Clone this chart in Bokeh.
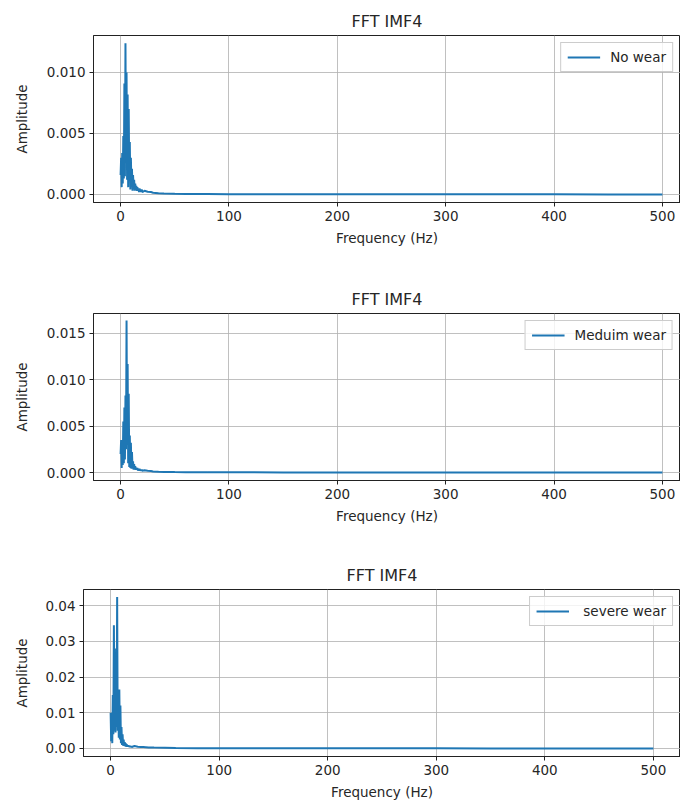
from bokeh.plotting import figure
from bokeh.layouts import column, row
from bokeh.models import Range1d, FixedTicker, PrintfTickFormatter, Legend, LegendItem
from bokeh.embed import file_html
from bokeh.resources import INLINE

# ---------------- data ----------------
freq_hz = [0.0, 0.5, 1.0, 1.5, 2.0, 2.5, 3.0, 3.5, 4.0, 4.5,
           5.0, 5.5, 6.0, 6.5, 7.0, 7.5, 8.0, 8.5, 9.0, 9.5,
           10.0, 10.5, 11.0, 11.5, 12.0, 12.5, 13.0, 13.5, 14.0, 14.5,
           15.0, 15.5, 16.0, 16.5, 17.0, 17.5, 18.0, 18.5, 19.0, 19.5,
           20.0, 22, 25, 28, 30, 35, 40, 50, 60, 80,
           100, 150, 200, 250, 300, 350, 400, 450, 500]

amp_no_wear = [0.0016, 0.0030, 0.0006, 0.0034, 0.0009, 0.0048, 0.0013, 0.0091, 0.0015, 0.0124,
               0.0030, 0.0100, 0.0012, 0.0082, 0.0006, 0.0070, 0.0014, 0.0043, 0.0004, 0.0030,
               0.0008, 0.0021, 0.0003, 0.0016, 0.0005, 0.0012, 0.0003, 0.0009, 0.0004, 0.0007,
               0.0003, 0.0006, 0.0003, 0.0005, 0.0002, 0.0005, 0.0002, 0.0004, 0.0002, 0.0004,
               0.0002, 0.00030, 0.00022, 0.00020, 0.00014, 0.00010, 0.00007, 0.00005, 0.00004, 0.00003,
               0.00002, 0.000015, 0.000012, 0.00001, 0.00001, 0.000008, 0.000008, 0.000006, 0.000005]

amp_medium_wear = [0.0020, 0.0035, 0.0005, 0.0033, 0.0008, 0.0055, 0.0010, 0.0070, 0.0014, 0.0083,
                   0.0025, 0.0164, 0.0030, 0.0117, 0.0010, 0.0085, 0.0006, 0.0040, 0.0005, 0.0032,
                   0.0004, 0.0022, 0.0004, 0.0012, 0.0003, 0.0009, 0.0003, 0.0007, 0.0003, 0.0005,
                   0.0003, 0.0005, 0.0002, 0.0004, 0.0002, 0.0004, 0.0002, 0.0003, 0.0002, 0.0003,
                   0.0002, 0.00025, 0.00020, 0.00016, 0.00012, 0.00009, 0.00007, 0.00005, 0.00004, 0.00003,
                   0.00002, 0.000015, 0.000012, 0.00001, 0.00001, 0.000008, 0.000008, 0.000006, 0.000005]

amp_severe_wear = [0.0100, 0.0020, 0.0080, 0.0015, 0.0150, 0.0040, 0.0345, 0.0050, 0.0150, 0.0045,
                   0.0280, 0.0060, 0.0424, 0.0050, 0.0160, 0.0030, 0.0165, 0.0025, 0.0120, 0.0015,
                   0.0060, 0.0010, 0.0040, 0.0008, 0.0025, 0.0007, 0.0018, 0.0006, 0.0014, 0.0005,
                   0.0011, 0.0005, 0.0009, 0.0005, 0.0008, 0.0004, 0.0007, 0.0004, 0.0006, 0.0004,
                   0.0005, 0.0007, 0.0005, 0.0004, 0.0004, 0.0003, 0.00025, 0.0002, 0.00015, 0.0001,
                   0.00008, 0.00006, 0.00005, 0.00004, 0.00004, 0.00003, 0.00003, 0.00003, 0.00002]

x_ticks = [0, 100, 200, 300, 400, 500]
y_ticks_1 = [0.000, 0.005, 0.010]
y_ticks_2 = [0.000, 0.005, 0.010, 0.015]
y_ticks_3 = [0.00, 0.01, 0.02, 0.03, 0.04]

labels = ["No wear", "Meduim wear", " severe wear"]
title_text = "FFT IMF4"
x_label = "Frequency (Hz)"
y_label = "Amplitude"

LINE_COLOR = "#1f77b4"
FONT = "DejaVu Sans"
TXT = "#262626"


def make_plot(amps, label, yticks, yfmt, height, top, bottom, left, x_end, y_start, y_end):
    p = figure(width=680, height=height, output_backend="svg", toolbar_location=None,
               x_range=Range1d(-25, x_end), y_range=Range1d(y_start, y_end),
               min_border_top=top, min_border_bottom=bottom,
               min_border_left=left, min_border_right=0,
               background_fill_color="white", border_fill_color="white")
    p.title.text = title_text
    p.title.align = "center"
    p.title.text_font = FONT
    p.title.text_font_size = "16px"
    p.title.text_font_style = "normal"
    p.title.text_color = TXT

    r = p.line(freq_hz, amps, line_color=LINE_COLOR, line_width=2)

    p.outline_line_color = "#222222"
    p.outline_line_width = 1

    for ax in (p.xaxis[0], p.yaxis[0]):
        ax.axis_line_color = "#222222"
        ax.major_tick_line_color = "#222222"
        ax.major_tick_out = 4
        ax.major_tick_in = 0
        ax.minor_tick_line_color = None
        ax.major_label_text_font = FONT
        ax.major_label_text_font_size = "13.5px"
        ax.major_label_text_color = TXT
        ax.axis_label_text_font = FONT
        ax.axis_label_text_font_size = "13.5px"
        ax.axis_label_text_font_style = "normal"
        ax.axis_label_text_color = TXT
        ax.major_label_standoff = 4

    p.xaxis[0].ticker = FixedTicker(ticks=x_ticks)
    p.xaxis[0].axis_label = x_label
    p.xaxis[0].axis_label_standoff = 6
    p.yaxis[0].ticker = FixedTicker(ticks=yticks)
    p.yaxis[0].formatter = PrintfTickFormatter(format=yfmt)
    p.yaxis[0].axis_label = y_label
    p.yaxis[0].axis_label_standoff = 14

    p.xgrid[0].ticker = FixedTicker(ticks=x_ticks)
    p.ygrid[0].ticker = FixedTicker(ticks=yticks)
    for g in (p.xgrid[0], p.ygrid[0]):
        g.grid_line_color = "#b0b0b0"
        g.grid_line_alpha = 0.8
        g.grid_line_width = 1

    legend = Legend(items=[LegendItem(label=label, renderers=[r])],
                    location="top_right", margin=7, padding=6, spacing=0,
                    glyph_width=33, glyph_height=14, label_standoff=10,
                    label_text_font=FONT, label_text_font_size="13.5px",
                    label_text_color=TXT, label_height=14,
                    border_line_color="#cccccc", border_line_alpha=1,
                    background_fill_alpha=0.8)
    p.add_layout(legend)
    return p


p1 = make_plot(amp_no_wear, labels[0], y_ticks_1, "%.3f", 270, 35, 68, 93, 516.7, -0.00066, 0.01303)
p2 = make_plot(amp_medium_wear, labels[1], y_ticks_2, "%.3f", 277, 43, 67, 93, 516.7, -0.00086, 0.01715)
p3 = make_plot(amp_severe_wear, labels[2], y_ticks_3, "%.2f", 256, 42, 47, 83, 525, -0.00224, 0.0445)
p3.yaxis[0].axis_label_standoff = 12

layout = column(row(p1), row(p2), row(p3), spacing=0)
open("out.html", "w").write(file_html(layout, INLINE))
